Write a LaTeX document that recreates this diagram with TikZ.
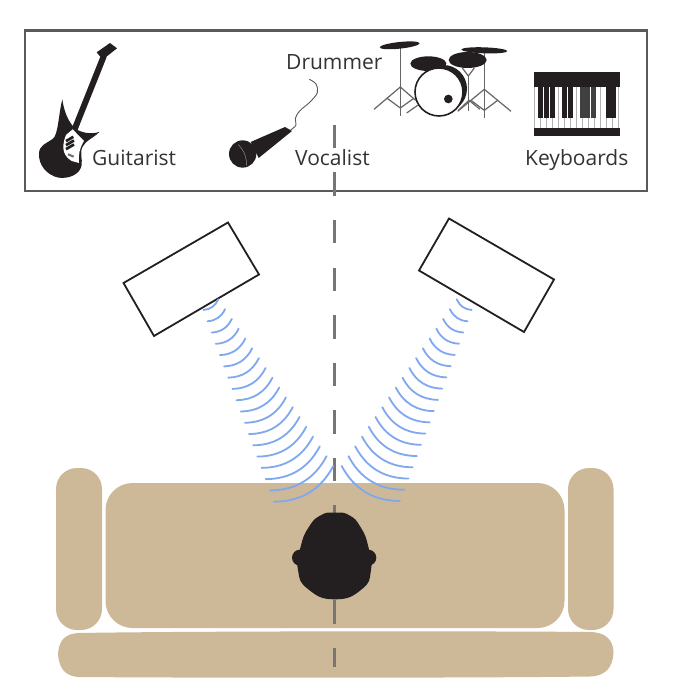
\documentclass[tikz,border=0pt]{standalone}
\usepackage{fontspec}
\setmainfont{Open Sans}
\definecolor{sofa}{HTML}{CDB998}
\definecolor{ink}{HTML}{231F20}
\definecolor{wave}{HTML}{7FA8EE}
\definecolor{frameg}{HTML}{5A5A5A}
\definecolor{dashg}{HTML}{7A7570}
\definecolor{txt}{HTML}{333333}
\tikzset{
  lab/.style={inner sep=0pt,text=txt,font=\fontsize{21}{23}\selectfont,anchor=base west},
  speaker/.style={draw=ink,line width=1.8pt,fill=white,line join=miter},
  sofapart/.style={fill=sofa,rounded corners=#1},
  arc/.style={draw=wave,line width=1.8pt,line cap=round},
  stand/.style={draw=black!60,line width=1.2pt},
}
\newcommand{\wavearcs}[8]{%
  \foreach \i in {0,...,17}{%
    \pgfmathsetmacro{\t}{\i/17}%
    \pgfmathsetmacro{\ax}{#1+(#3-#1)*\t}%
    \pgfmathsetmacro{\ay}{#2+(#4-#2)*\t}%
    \pgfmathsetmacro{\bx}{#5+(#7-#5)*\t}%
    \pgfmathsetmacro{\by}{#6+(#8-#6)*\t}%
    \pgfmathsetmacro{\cx}{(\ax+\bx)/2-0.30*(\by-\ay)}%
    \pgfmathsetmacro{\cy}{(\ay+\by)/2+0.30*(\bx-\ax)}%
    \draw[arc] (\ax,\ay) .. controls ({\ax+(\cx-\ax)*2/3},{\ay+(\cy-\ay)*2/3}) and ({\bx+(\cx-\bx)*2/3},{\by+(\cy-\by)*2/3}) .. (\bx,\by);
  }%
}
\begin{document}
\begin{tikzpicture}[x=1pt,y=-1pt]
\useasboundingbox (0,0) rectangle (676,700);
\fill[white] (0,0) rectangle (676,700);

% sofa
\fill[sofapart=21] (56,468) rectangle (102,630);
\fill[sofapart=21] (568,468) rectangle (613.5,630);
\fill[sofapart=27] (105.5,483) rectangle (564.5,628);
\fill[sofa] (78,633) .. controls (200,631) and (480,631) .. (592,632)
  .. controls (606,633) and (613,640) .. (613.5,652)
  .. controls (613,668) and (605,676) .. (590,676.5)
  .. controls (480,678) and (200,678) .. (78,677)
  .. controls (65,676) and (59,668) .. (58,654)
  .. controls (59,640) and (65,634) .. (78,633) -- cycle;

% top box
\draw[draw=frameg,line width=2.4pt,fill=white] (25,30.5) rectangle (647,191);

% centre line
\coordinate (ctop) at (334.5,125);
\coordinate (cbot) at (334.5,667);
\draw[draw=dashg,line width=2.4pt,dash pattern=on 23.5pt off 24pt] (ctop) -- (cbot);

% speakers
\draw[speaker] (123.5,283) -- (228,222.5) -- (259,274.5) -- (154,336) -- cycle;
\draw[speaker] (449,218.5) -- (554,279.5) -- (524,332) -- (419,270.5) -- cycle;

% waves
\wavearcs{203.3}{310}{274}{501.7}{218.3}{299.3}{333.3}{466}
\wavearcs{456.7}{299.3}{341.7}{466}{471.7}{310}{400}{501}

% head
\begin{scope}[shift={(260,490)},x=0.3333pt,y=-0.3333pt]
  \fill[ink] plot[smooth cycle,tension=0.9] coordinates
    {(225,68) (268,76) (302,112) (325,170) (333,240) (305,298) (225,328) (145,298) (114,240) (122,170) (146,112) (182,76)};
  \fill[ink] (120,203) circle [radius=24];
  \fill[ink] (325,203) circle [radius=24];
\end{scope}

% guitar
\begin{scope}[shift={(30,35)},x=0.3333pt,y=-0.3333pt]
  \draw[ink,line width=6pt] (222,62) -- (133,285);
  \fill[ink] (200,52) -- (240,24) -- (261,40) -- (218,74) -- cycle;
  \fill[ink] (97,193) .. controls (102,230) and (115,258) .. (130,275)
    .. controls (145,292) and (180,300) .. (208,291)
    .. controls (190,310) and (168,315) .. (158,335)
    .. controls (148,355) and (158,370) .. (155,390)
    .. controls (150,420) and (115,432) .. (85,428)
    .. controls (50,420) and (25,390) .. (27,355)
    .. controls (28,330) and (50,325) .. (68,312)
    .. controls (85,300) and (85,240) .. (97,193) -- cycle;
  \fill[white] (108,300) -- (128,283) -- (162,318) .. controls (148,340) and (145,360) .. (147,384)
    -- (125,378) .. controls (105,365) and (90,345) .. (108,300) -- cycle;
  \fill[ink] (106,315) -- (128,302) -- (132,309) -- (110,322) -- cycle;
  \fill[ink] (106,327) -- (130,313) -- (134,320) -- (110,334) -- cycle;
  \fill[ink] (106,339) -- (130,325) -- (134,332) -- (110,346) -- cycle;
  \fill[black!55] (115,355) -- (132,362) -- (130,368) -- (113,361) -- cycle;
\end{scope}

% microphone
\begin{scope}[shift={(220,70)},x=0.3333pt,y=-0.3333pt]
  \draw[black!65,line width=0.9pt] plot[smooth,tension=0.6] coordinates
    {(268,28) (288,42) (292,68) (270,96) (240,122) (226,145) (228,165) (212,180)};
  \fill[ink] (92,216) -- (195,171) -- (216,183) -- (116,264) -- cycle;
  \fill[ink] (68,252) circle [radius=41];
  \draw[black!45,line width=0.5pt] (55,224) .. controls (75,245) and (80,265) .. (80,287);
\end{scope}

% drums
\begin{scope}[shift={(365,32)},x=0.3333pt,y=-0.3333pt]
  \draw[stand] (106,45) -- (106,252);
  \draw[stand] (27,232) -- (106,165) -- (152,205);
  \draw[stand] (65,198) -- (106,228) -- (145,200);
  \draw[stand] (358,55) -- (358,257);
  \draw[stand] (278,238) -- (358,172) -- (438,238);
  \draw[stand] (318,205) -- (358,235) -- (398,205);
  \draw[stand] (310,130) -- (310,238);
  \draw[stand] (292,108) -- (310,132) -- (328,108);
  \draw[stand] (125,243) -- (158,220);
  \draw[stand] (280,235) -- (312,205) -- (345,232);
  \fill[ink,rotate around={6:(104,40)}] (104,40) ellipse [x radius=60,y radius=10];
  \fill[ink,rotate around={-2:(358,55)}] (358,55) ellipse [x radius=69,y radius=9];
  \fill[ink] (190,95) ellipse [x radius=54,y radius=22];
  \fill[ink] (308,84) ellipse [x radius=57,y radius=24];
  \fill[ink] (235,170) circle [radius=71];
  \draw[draw=ink,line width=1.6pt,fill=white] (222,180) circle [radius=72];
  \fill[ink] (250,201) circle [radius=13];
\end{scope}

% keyboard
\begin{scope}[shift={(525,65)},x=0.3333pt,y=-0.3333pt]
  \foreach \k in {27,45,...,285}
    \draw[black!30,line width=1pt] (\k,65) -- (\k,188);
  \fill[ink] (27,22) rectangle (285,66);
  \fill[ink] (27,188) rectangle (285,213);
  \foreach \a/\b in {39/55,58/73,75/90,111/126,129/145,244/257,259/273}
    \fill[ink] (\a,65) rectangle (\b,160);
  \foreach \a/\b in {166/180,181/196,197/213}
    \fill[black!75] (\a,65) rectangle (\b,160);
\end{scope}

% labels
\node[lab] (guitarist) at (92,166) {Guitarist};
\node[lab] (drummer) at (286,70) {Drummer};
\node[lab] (vocalist) at (295,166) {Vocalist};
\node[lab] (keyboards) at (525,166) {Keyboards};
\end{tikzpicture}
\end{document}
